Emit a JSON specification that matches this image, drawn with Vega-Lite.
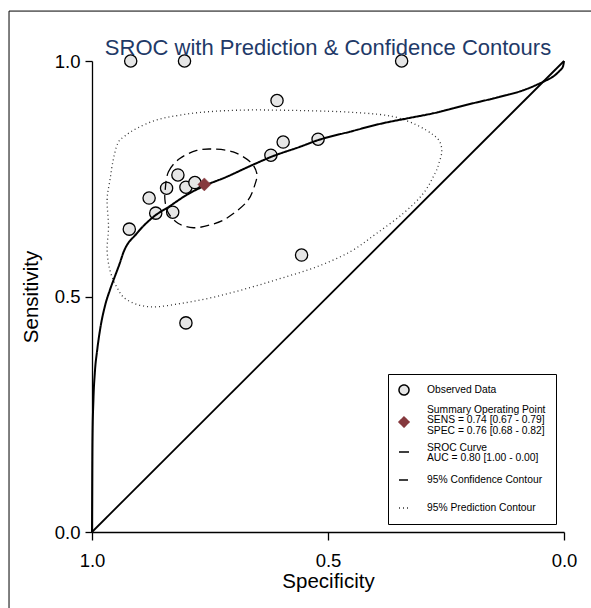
{
  "$schema": "https://vega.github.io/schema/vega-lite/v6.json",
  "width": 472,
  "height": 471,
  "autosize": {"type": "none"},
  "padding": {"left": 92, "top": 61, "right": 27, "bottom": 76},
  "background": "white",
  "title": {
    "text": "SROC with Prediction & Confidence Contours",
    "fontSize": 22,
    "font": "Liberation Sans",
    "fontWeight": "normal",
    "color": "#1f3a68",
    "anchor": "middle",
    "baseline": "alphabetic",
    "offset": -66.8
  },
  "datasets": {
    "observed": [
      {"spec": 0.918, "sens": 1.0, "series": "Observed Data"},
      {"spec": 0.804, "sens": 1.0, "series": "Observed Data"},
      {"spec": 0.344, "sens": 1.0, "series": "Observed Data"},
      {"spec": 0.608, "sens": 0.916, "series": "Observed Data"},
      {"spec": 0.621, "sens": 0.800, "series": "Observed Data"},
      {"spec": 0.595, "sens": 0.828, "series": "Observed Data"},
      {"spec": 0.521, "sens": 0.834, "series": "Observed Data"},
      {"spec": 0.556, "sens": 0.588, "series": "Observed Data"},
      {"spec": 0.801, "sens": 0.444, "series": "Observed Data"},
      {"spec": 0.921, "sens": 0.643, "series": "Observed Data"},
      {"spec": 0.879, "sens": 0.709, "series": "Observed Data"},
      {"spec": 0.865, "sens": 0.677, "series": "Observed Data"},
      {"spec": 0.842, "sens": 0.730, "series": "Observed Data"},
      {"spec": 0.818, "sens": 0.758, "series": "Observed Data"},
      {"spec": 0.829, "sens": 0.679, "series": "Observed Data"},
      {"spec": 0.801, "sens": 0.732, "series": "Observed Data"},
      {"spec": 0.782, "sens": 0.742, "series": "Observed Data"}
    ],
    "summary": [
      {"spec": 0.762, "sens": 0.738, "series": "Summary Operating Point"}
    ],
    "diagonal": [
      {"spec": 1.0, "sens": 0.0},
      {"spec": 0.0, "sens": 1.0}
    ],
    "sroc": [
      {"spec": 1.0, "sens": 0.0, "series": "SROC Curve"},
      {"spec": 0.999, "sens": 0.195, "series": "SROC Curve"},
      {"spec": 0.997, "sens": 0.280, "series": "SROC Curve"},
      {"spec": 0.994, "sens": 0.338, "series": "SROC Curve"},
      {"spec": 0.989, "sens": 0.386, "series": "SROC Curve"},
      {"spec": 0.983, "sens": 0.429, "series": "SROC Curve"},
      {"spec": 0.972, "sens": 0.482, "series": "SROC Curve"},
      {"spec": 0.962, "sens": 0.514, "series": "SROC Curve"},
      {"spec": 0.951, "sens": 0.544, "series": "SROC Curve"},
      {"spec": 0.941, "sens": 0.571, "series": "SROC Curve"},
      {"spec": 0.934, "sens": 0.592, "series": "SROC Curve"},
      {"spec": 0.905, "sens": 0.634, "series": "SROC Curve"},
      {"spec": 0.870, "sens": 0.669, "series": "SROC Curve"},
      {"spec": 0.835, "sens": 0.692, "series": "SROC Curve"},
      {"spec": 0.799, "sens": 0.716, "series": "SROC Curve"},
      {"spec": 0.764, "sens": 0.734, "series": "SROC Curve"},
      {"spec": 0.715, "sens": 0.754, "series": "SROC Curve"},
      {"spec": 0.665, "sens": 0.777, "series": "SROC Curve"},
      {"spec": 0.619, "sens": 0.797, "series": "SROC Curve"},
      {"spec": 0.559, "sens": 0.818, "series": "SROC Curve"},
      {"spec": 0.521, "sens": 0.832, "series": "SROC Curve"},
      {"spec": 0.453, "sens": 0.850, "series": "SROC Curve"},
      {"spec": 0.383, "sens": 0.868, "series": "SROC Curve"},
      {"spec": 0.333, "sens": 0.878, "series": "SROC Curve"},
      {"spec": 0.277, "sens": 0.889, "series": "SROC Curve"},
      {"spec": 0.206, "sens": 0.907, "series": "SROC Curve"},
      {"spec": 0.136, "sens": 0.924, "series": "SROC Curve"},
      {"spec": 0.086, "sens": 0.938, "series": "SROC Curve"},
      {"spec": 0.044, "sens": 0.956, "series": "SROC Curve"},
      {"spec": 0.023, "sens": 0.967, "series": "SROC Curve"},
      {"spec": 0.0095, "sens": 0.979, "series": "SROC Curve"},
      {"spec": 0.002, "sens": 0.989, "series": "SROC Curve"},
      {"spec": 0.0, "sens": 1.0, "series": "SROC Curve"}
    ],
    "confidence": [
      {"spec": 0.845, "sens": 0.726, "series": "95% Confidence Contour"},
      {"spec": 0.838, "sens": 0.765, "series": "95% Confidence Contour"},
      {"spec": 0.814, "sens": 0.793, "series": "95% Confidence Contour"},
      {"spec": 0.778, "sens": 0.810, "series": "95% Confidence Contour"},
      {"spec": 0.743, "sens": 0.813, "series": "95% Confidence Contour"},
      {"spec": 0.701, "sens": 0.807, "series": "95% Confidence Contour"},
      {"spec": 0.665, "sens": 0.786, "series": "95% Confidence Contour"},
      {"spec": 0.651, "sens": 0.762, "series": "95% Confidence Contour"},
      {"spec": 0.655, "sens": 0.737, "series": "95% Confidence Contour"},
      {"spec": 0.672, "sens": 0.701, "series": "95% Confidence Contour"},
      {"spec": 0.715, "sens": 0.666, "series": "95% Confidence Contour"},
      {"spec": 0.750, "sens": 0.652, "series": "95% Confidence Contour"},
      {"spec": 0.785, "sens": 0.646, "series": "95% Confidence Contour"},
      {"spec": 0.817, "sens": 0.655, "series": "95% Confidence Contour"},
      {"spec": 0.838, "sens": 0.677, "series": "95% Confidence Contour"},
      {"spec": 0.845, "sens": 0.701, "series": "95% Confidence Contour"}
    ],
    "prediction": [
      {"spec": 0.965, "sens": 0.648, "series": "95% Prediction Contour"},
      {"spec": 0.968, "sens": 0.705, "series": "95% Prediction Contour"},
      {"spec": 0.962, "sens": 0.747, "series": "95% Prediction Contour"},
      {"spec": 0.955, "sens": 0.790, "series": "95% Prediction Contour"},
      {"spec": 0.945, "sens": 0.826, "series": "95% Prediction Contour"},
      {"spec": 0.930, "sens": 0.841, "series": "95% Prediction Contour"},
      {"spec": 0.905, "sens": 0.857, "series": "95% Prediction Contour"},
      {"spec": 0.863, "sens": 0.875, "series": "95% Prediction Contour"},
      {"spec": 0.814, "sens": 0.885, "series": "95% Prediction Contour"},
      {"spec": 0.757, "sens": 0.892, "series": "95% Prediction Contour"},
      {"spec": 0.665, "sens": 0.896, "series": "95% Prediction Contour"},
      {"spec": 0.524, "sens": 0.894, "series": "95% Prediction Contour"},
      {"spec": 0.432, "sens": 0.890, "series": "95% Prediction Contour"},
      {"spec": 0.362, "sens": 0.882, "series": "95% Prediction Contour"},
      {"spec": 0.312, "sens": 0.864, "series": "95% Prediction Contour"},
      {"spec": 0.277, "sens": 0.843, "series": "95% Prediction Contour"},
      {"spec": 0.263, "sens": 0.828, "series": "95% Prediction Contour"},
      {"spec": 0.259, "sens": 0.807, "series": "95% Prediction Contour"},
      {"spec": 0.265, "sens": 0.783, "series": "95% Prediction Contour"},
      {"spec": 0.273, "sens": 0.762, "series": "95% Prediction Contour"},
      {"spec": 0.298, "sens": 0.719, "series": "95% Prediction Contour"},
      {"spec": 0.340, "sens": 0.677, "series": "95% Prediction Contour"},
      {"spec": 0.397, "sens": 0.634, "series": "95% Prediction Contour"},
      {"spec": 0.453, "sens": 0.595, "series": "95% Prediction Contour"},
      {"spec": 0.524, "sens": 0.563, "series": "95% Prediction Contour"},
      {"spec": 0.595, "sens": 0.540, "series": "95% Prediction Contour"},
      {"spec": 0.665, "sens": 0.519, "series": "95% Prediction Contour"},
      {"spec": 0.736, "sens": 0.500, "series": "95% Prediction Contour"},
      {"spec": 0.807, "sens": 0.486, "series": "95% Prediction Contour"},
      {"spec": 0.877, "sens": 0.478, "series": "95% Prediction Contour"},
      {"spec": 0.926, "sens": 0.493, "series": "95% Prediction Contour"},
      {"spec": 0.948, "sens": 0.521, "series": "95% Prediction Contour"},
      {"spec": 0.962, "sens": 0.556, "series": "95% Prediction Contour"},
      {"spec": 0.968, "sens": 0.599, "series": "95% Prediction Contour"}
    ]
  },
  "layer": [
    {
      "data": {"values": [{}]},
      "mark": {"type": "rect", "fill": "transparent", "stroke": "black", "strokeWidth": 1},
      "encoding": {
        "x": {"datum": 1.1758, "type": "quantitative", "scale": {"domain": [0, 1], "reverse": true}, "title": "Specificity", "axis": {"values": [0, 0.5, 1], "format": ".1f"}},
        "x2": {"datum": -0.15},
        "y": {"datum": 1.106, "type": "quantitative", "scale": {"domain": [0, 1]}, "title": "Sensitivity", "axis": {"values": [0, 0.5, 1], "format": ".1f"}},
        "y2": {"datum": -0.25}
      }
    },
    {
      "data": {"name": "observed"},
      "mark": {"type": "point", "filled": true, "size": 150, "strokeWidth": 1.3, "opacity": 1},
      "encoding": {
        "x": {"field": "spec", "type": "quantitative", "title": "Specificity"},
        "y": {"field": "sens", "type": "quantitative", "title": "Sensitivity"},
        "shape": {"field": "series", "type": "nominal", "scale": {"domain": ["Observed Data", "Summary Operating Point", "SROC Curve", "95% Confidence Contour", "95% Prediction Contour"], "range": ["circle", "diamond", "stroke", "stroke", "stroke"]},
          "legend": {"title": null, "labelExpr": "datum.value == 'Observed Data' ? ['', 'Observed Data'] : datum.value == 'Summary Operating Point' ? ['Summary Operating Point', 'SENS = 0.74 [0.67 - 0.79]', 'SPEC = 0.76 [0.68 - 0.82]'] : datum.value == 'SROC Curve' ? ['SROC Curve', 'AUC = 0.80 [1.00 - 0.00]'] : datum.value == '95% Confidence Contour' ? ['', '95% Confidence Contour'] : ['', '95% Prediction Contour']",
            "encoding": {"labels": {
              "dy": {"value": {"expr": "datum.value == 'Observed Data' ? -13 : datum.value == 'Summary Operating Point' ? -12 : datum.value == 'SROC Curve' ? -4 : datum.value == '95% Confidence Contour' ? -4 : -10"}},
              "lineHeight": {"value": {"expr": "datum.value == 'Observed Data' ? 13 : datum.value == 'Summary Operating Point' ? 10.3 : datum.value == 'SROC Curve' ? 10.3 : datum.value == '95% Confidence Contour' ? 4 : 10"}}
            }}}},
        "fill": {"field": "series", "type": "nominal", "scale": {"domain": ["Observed Data", "Summary Operating Point", "SROC Curve", "95% Confidence Contour", "95% Prediction Contour"], "range": ["#e6e6e6", "#86393e", "transparent", "transparent", "transparent"]},
          "legend": {"title": null, "labelExpr": "datum.value == 'Observed Data' ? ['', 'Observed Data'] : datum.value == 'Summary Operating Point' ? ['Summary Operating Point', 'SENS = 0.74 [0.67 - 0.79]', 'SPEC = 0.76 [0.68 - 0.82]'] : datum.value == 'SROC Curve' ? ['SROC Curve', 'AUC = 0.80 [1.00 - 0.00]'] : datum.value == '95% Confidence Contour' ? ['', '95% Confidence Contour'] : ['', '95% Prediction Contour']",
            "encoding": {"labels": {
              "dy": {"value": {"expr": "datum.value == 'Observed Data' ? -13 : datum.value == 'Summary Operating Point' ? -12 : datum.value == 'SROC Curve' ? -4 : datum.value == '95% Confidence Contour' ? -4 : -10"}},
              "lineHeight": {"value": {"expr": "datum.value == 'Observed Data' ? 13 : datum.value == 'Summary Operating Point' ? 10.3 : datum.value == 'SROC Curve' ? 10.3 : datum.value == '95% Confidence Contour' ? 4 : 10"}}
            }}}},
        "stroke": {"field": "series", "type": "nominal", "scale": {"domain": ["Observed Data", "Summary Operating Point", "SROC Curve", "95% Confidence Contour", "95% Prediction Contour"], "range": ["#000000", "#86393e", "#000000", "#000000", "#333333"]},
          "legend": {"title": null, "labelExpr": "datum.value == 'Observed Data' ? ['', 'Observed Data'] : datum.value == 'Summary Operating Point' ? ['Summary Operating Point', 'SENS = 0.74 [0.67 - 0.79]', 'SPEC = 0.76 [0.68 - 0.82]'] : datum.value == 'SROC Curve' ? ['SROC Curve', 'AUC = 0.80 [1.00 - 0.00]'] : datum.value == '95% Confidence Contour' ? ['', '95% Confidence Contour'] : ['', '95% Prediction Contour']",
            "encoding": {"labels": {
              "dy": {"value": {"expr": "datum.value == 'Observed Data' ? -13 : datum.value == 'Summary Operating Point' ? -12 : datum.value == 'SROC Curve' ? -4 : datum.value == '95% Confidence Contour' ? -4 : -10"}},
              "lineHeight": {"value": {"expr": "datum.value == 'Observed Data' ? 13 : datum.value == 'Summary Operating Point' ? 10.3 : datum.value == 'SROC Curve' ? 10.3 : datum.value == '95% Confidence Contour' ? 4 : 10"}}
            }}}}
      }
    },
    {
      "data": {"name": "diagonal"},
      "mark": {"type": "line", "color": "black", "strokeWidth": 1.8},
      "encoding": {
        "x": {"field": "spec", "type": "quantitative"},
        "y": {"field": "sens", "type": "quantitative"},
        "order": {"value": null}
      }
    },
    {
      "data": {"name": "prediction"},
      "mark": {"type": "line", "strokeWidth": 1.3, "interpolate": "cardinal-closed"},
      "encoding": {
        "x": {"field": "spec", "type": "quantitative"},
        "y": {"field": "sens", "type": "quantitative"},
        "order": {"value": null},
        "stroke": {"field": "series", "type": "nominal"},
        "strokeDash": {"field": "series", "type": "nominal", "scale": {"domain": ["Observed Data", "Summary Operating Point", "SROC Curve", "95% Confidence Contour", "95% Prediction Contour"], "range": [[1, 0], [1, 0], [1, 0], [9, 5], [1, 3]]},
          "legend": {"title": null, "labelExpr": "datum.value == 'Observed Data' ? ['', 'Observed Data'] : datum.value == 'Summary Operating Point' ? ['Summary Operating Point', 'SENS = 0.74 [0.67 - 0.79]', 'SPEC = 0.76 [0.68 - 0.82]'] : datum.value == 'SROC Curve' ? ['SROC Curve', 'AUC = 0.80 [1.00 - 0.00]'] : datum.value == '95% Confidence Contour' ? ['', '95% Confidence Contour'] : ['', '95% Prediction Contour']",
            "encoding": {"labels": {
              "dy": {"value": {"expr": "datum.value == 'Observed Data' ? -13 : datum.value == 'Summary Operating Point' ? -12 : datum.value == 'SROC Curve' ? -4 : datum.value == '95% Confidence Contour' ? -4 : -10"}},
              "lineHeight": {"value": {"expr": "datum.value == 'Observed Data' ? 13 : datum.value == 'Summary Operating Point' ? 10.3 : datum.value == 'SROC Curve' ? 10.3 : datum.value == '95% Confidence Contour' ? 4 : 10"}}
            }}}}
      }
    },
    {
      "data": {"name": "confidence"},
      "mark": {"type": "line", "strokeWidth": 1.3, "interpolate": "cardinal-closed"},
      "encoding": {
        "x": {"field": "spec", "type": "quantitative"},
        "y": {"field": "sens", "type": "quantitative"},
        "order": {"value": null},
        "stroke": {"field": "series", "type": "nominal"},
        "strokeDash": {"field": "series", "type": "nominal"}
      }
    },
    {
      "data": {"name": "sroc"},
      "mark": {"type": "line", "strokeWidth": 2, "interpolate": "monotone"},
      "encoding": {
        "x": {"field": "spec", "type": "quantitative"},
        "y": {"field": "sens", "type": "quantitative"},
        "order": {"value": null},
        "stroke": {"field": "series", "type": "nominal"},
        "strokeDash": {"field": "series", "type": "nominal"}
      }
    },
    {
      "data": {"name": "summary"},
      "mark": {"type": "point", "filled": true, "size": 170, "strokeWidth": 0.5, "opacity": 1},
      "encoding": {
        "x": {"field": "spec", "type": "quantitative"},
        "y": {"field": "sens", "type": "quantitative"},
        "shape": {"field": "series", "type": "nominal"},
        "fill": {"field": "series", "type": "nominal"},
        "stroke": {"field": "series", "type": "nominal"}
      }
    }
  ],
  "config": {
    "view": {"stroke": null},
    "axis": {
      "grid": false,
      "domainColor": "black",
      "tickColor": "black",
      "labelColor": "black",
      "titleColor": "black",
      "labelFont": "Liberation Sans",
      "titleFont": "Liberation Sans",
      "titleFontWeight": "normal",
      "labelFontSize": 18.5,
      "titleFontSize": 20.5,
      "domainWidth": 1.3,
      "tickWidth": 1.3,
      "labelFlush": false
    },
    "axisX": {"tickSize": 8, "labelPadding": 11, "titlePadding": 2},
    "axisY": {"tickSize": 7, "labelPadding": 5, "titlePadding": 13},
    "legend": {
      "orient": "bottom-right",
      "offset": 8,
      "padding": 10,
      "strokeColor": "black",
      "fillColor": "white",
      "labelFont": "Liberation Sans",
      "labelFontSize": 10.3,
      "labelColor": "black",
      "labelLimit": 300,
      "labelOffset": 17,
      "symbolSize": 100,
      "symbolStrokeWidth": 1.5,
      "rowPadding": 7
    }
  }
}
